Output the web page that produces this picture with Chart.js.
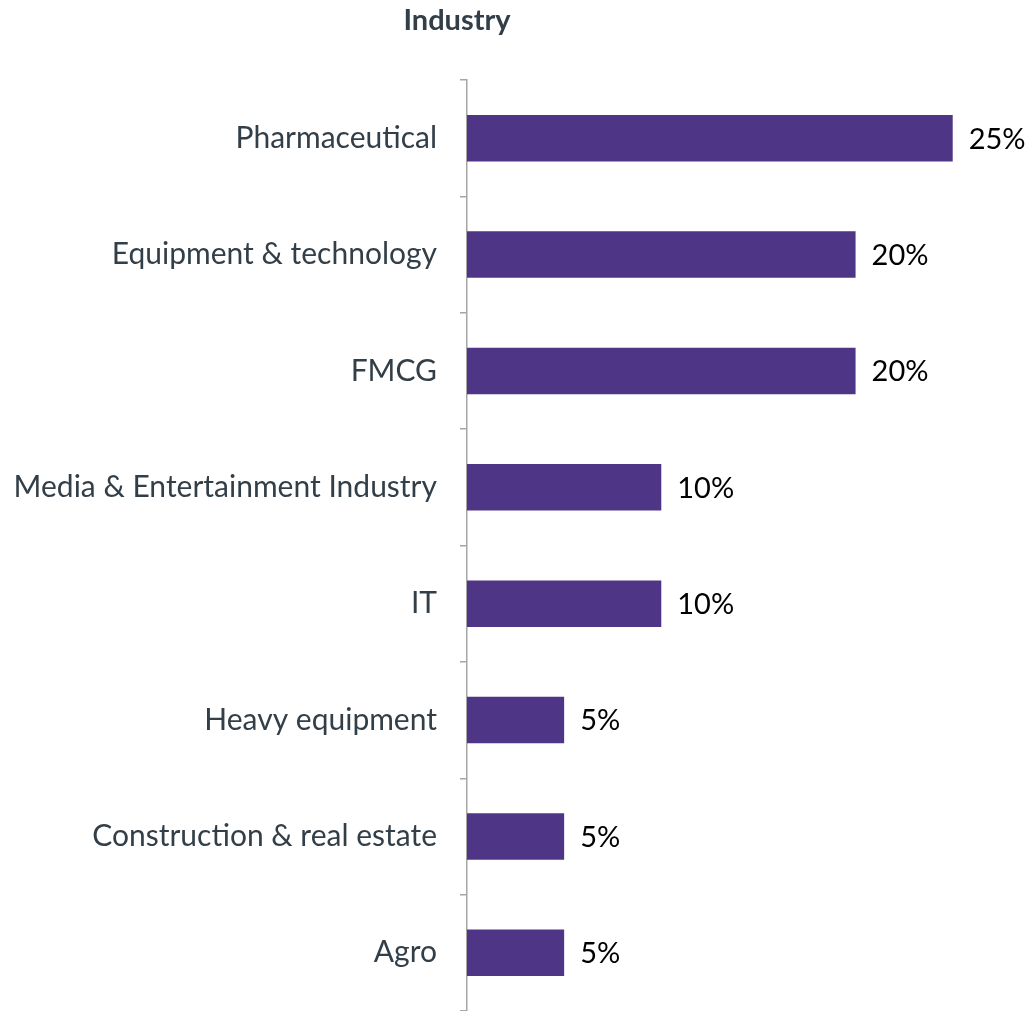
<!DOCTYPE html>
<html>
<head>
<meta charset="utf-8">
<script src="https://cdn.jsdelivr.net/npm/chart.js@4/dist/chart.umd.min.js"></script>
<style>
html,body{margin:0;padding:0;background:#fff;}
</style>
</head>
<body>
<canvas id="c" width="1028" height="1011"></canvas>
<script>
const categories = ["Pharmaceutical","Equipment & technology","FMCG","Media & Entertainment Industry","IT","Heavy equipment","Construction & real estate","Agro"];
const values = [25,20,20,10,10,5,5,5];
const valueLabels = ["25%","20%","20%","10%","10%","5%","5%","5%"];
const chartTitle = "Industry";

const FONT = "Lato, 'Open Sans', sans-serif";

const labelPlugin = {
  id: 'valueLabels',
  afterDatasetsDraw(chart) {
    const ctx = chart.ctx;
    const meta = chart.getDatasetMeta(0);
    ctx.save();
    ctx.font = "29px " + FONT;
    ctx.fillStyle = "#000000";
    ctx.textAlign = "left";
    ctx.textBaseline = "middle";
    meta.data.forEach((bar, i) => {
      ctx.fillText(valueLabels[i], bar.x + 16, bar.y + 1);
    });
    ctx.restore();
  }
};

const titlePlugin = {
  id: 'topTitle',
  afterDraw(chart) {
    const ctx = chart.ctx;
    ctx.save();
    ctx.font = "bold 29px " + FONT;
    ctx.fillStyle = "#333f48";
    ctx.textAlign = "center";
    ctx.textBaseline = "middle";
    ctx.fillText(chartTitle, 457, 21);
    ctx.restore();
  }
};

new Chart(document.getElementById('c'), {
  type: 'bar',
  data: {
    labels: categories,
    datasets: [{
      data: values,
      backgroundColor: '#4e3585',
      borderWidth: 0,
      categoryPercentage: 0.4,
      barPercentage: 1.0
    }]
  },
  options: {
    indexAxis: 'y',
    responsive: false,
    animation: false,
    layout: { padding: { top: 80, right: 17, bottom: 0, left: 0 } },
    plugins: { legend: { display: false }, tooltip: { enabled: false } },
    scales: {
      x: { display: false, min: 0, max: 28 },
      y: {
        afterFit(scale) { scale.width = 467; scale.paddingTop = 0; scale.paddingBottom = 0; },
        border: { display: true, color: '#a6a6a6', width: 1.5 },
        grid: { display: true, drawOnChartArea: false, offset: true, tickLength: 7, color: '#a6a6a6', lineWidth: 1.5 },
        ticks: { color: '#333f48', font: { family: FONT, size: 30 }, padding: 23 }
      }
    }
  },
  plugins: [labelPlugin, titlePlugin]
});
</script>
</body>
</html>
